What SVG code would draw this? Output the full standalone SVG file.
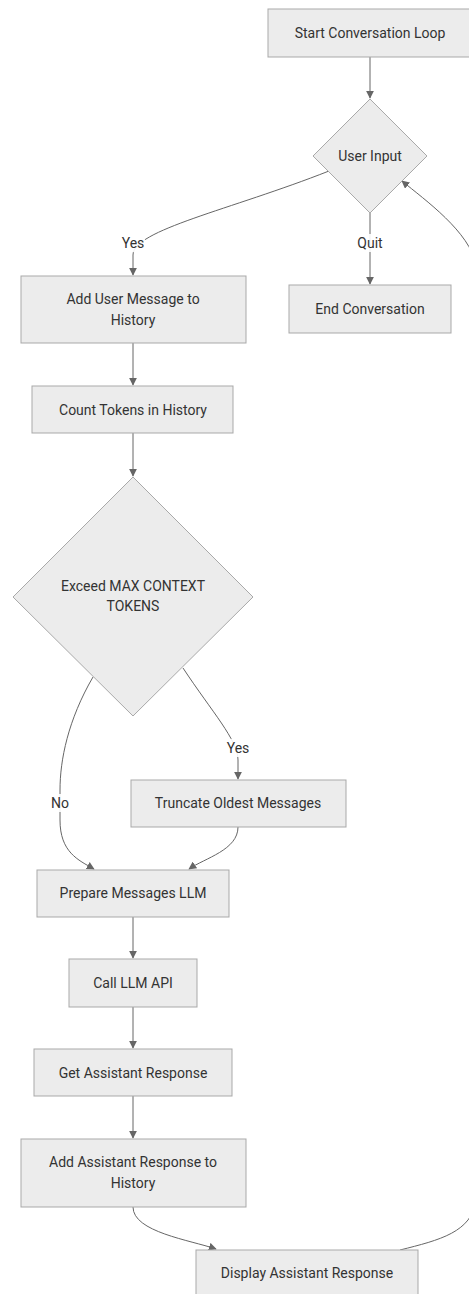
<svg xmlns="http://www.w3.org/2000/svg" width="469" height="1294" viewBox="0 0 469 1294">
  <style>
    .node rect, .node polygon { fill: #ececec; stroke: #a9a9a9; stroke-width: 1; }
    .node text { font-family: Roboto, "Liberation Sans", sans-serif; font-size: 14px; fill: #333; text-anchor: middle; dominant-baseline: central; }
    .edge { fill: none; stroke: #666; stroke-width: 1; }
    .lbl rect { fill: #fff; opacity: 0.9; }
    .lbl text { font-family: Roboto, "Liberation Sans", sans-serif; font-size: 14px; fill: #333; text-anchor: middle; dominant-baseline: central; }
  </style>
  <defs>
    <marker id="arrow" viewBox="0 0 10 10" refX="9" refY="5" markerWidth="8" markerHeight="8" markerUnits="userSpaceOnUse" orient="auto">
      <path d="M0,0 L10,5 L0,10 z" fill="#666"/>
    </marker>
  </defs>

  <rect width="469" height="1294" fill="#fff"/>

  <!-- connectors -->
  <g id="edges">
    <path class="edge" d="M370,57 L370,98" marker-end="url(#arrow)"/>
    <path class="edge" d="M329,171 C 230,210 133,230 133,255 L133,275" marker-end="url(#arrow)"/>
    <path class="edge" d="M370,212 L370,284" marker-end="url(#arrow)"/>
    <path class="edge" d="M133,343 L133,385" marker-end="url(#arrow)"/>
    <path class="edge" d="M133,433 L133,476" marker-end="url(#arrow)"/>
    <path class="edge" d="M93,677 C 68,720 60,760 60,790 L60,820 C 60,852 78,860 94,869" marker-end="url(#arrow)"/>
    <path class="edge" d="M183,668 C 212,712 238,740 238,760 L238,779" marker-end="url(#arrow)"/>
    <path class="edge" d="M238,827 C 238,850 205,858 189,869" marker-end="url(#arrow)"/>
    <path class="edge" d="M133,917 L133,958" marker-end="url(#arrow)"/>
    <path class="edge" d="M133,1007 L133,1048" marker-end="url(#arrow)"/>
    <path class="edge" d="M133,1096 L133,1138" marker-end="url(#arrow)"/>
    <path class="edge" d="M133,1207 C 133,1232 190,1240 216,1249" marker-end="url(#arrow)"/>
    <path class="edge" d="M400,1250 C 440,1240 472,1232 476,1200 L476,265 C 470,232 425,200 402,181" marker-end="url(#arrow)"/>

    <g class="lbl">
      <rect x="121" y="234" width="24" height="18"/>
      <text x="133" y="243">Yes</text>
      <rect x="356" y="234" width="28" height="18"/>
      <text x="370" y="243">Quit</text>
      <rect x="50" y="794" width="20" height="18"/>
      <text x="60" y="803">No</text>
      <rect x="227" y="739" width="23" height="18"/>
      <text x="238" y="748">Yes</text>
    </g>
  </g>

  <!-- nodes -->
  <g id="start" class="node">
    <rect x="268" y="9" width="204" height="48"/>
    <text x="370" y="33">Start Conversation Loop</text>
  </g>
  <g id="userInput" class="node">
    <polygon points="370,99 427,156 370,213 313,156"/>
    <text x="370" y="156">User Input</text>
  </g>
  <g id="endConv" class="node">
    <rect x="289" y="285" width="162" height="48"/>
    <text x="370" y="309">End Conversation</text>
  </g>
  <g id="addUser" class="node">
    <rect x="21" y="276" width="225" height="67"/>
    <text x="133" y="299">Add User Message to</text>
    <text x="133" y="320">History</text>
  </g>
  <g id="countTokens" class="node">
    <rect x="32" y="386" width="201" height="47"/>
    <text x="133" y="410">Count Tokens in History</text>
  </g>
  <g id="exceed" class="node">
    <polygon points="133,477 253,597 133,716 13,597"/>
    <text x="133" y="586">Exceed MAX CONTEXT</text>
    <text x="133" y="606">TOKENS</text>
  </g>
  <g id="truncate" class="node">
    <rect x="131" y="780" width="215" height="47"/>
    <text x="238" y="803">Truncate Oldest Messages</text>
  </g>
  <g id="prepare" class="node">
    <rect x="37" y="870" width="192" height="47"/>
    <text x="133" y="893">Prepare Messages LLM</text>
  </g>
  <g id="callApi" class="node">
    <rect x="69" y="959" width="128" height="48"/>
    <text x="133" y="983">Call LLM API</text>
  </g>
  <g id="getResponse" class="node">
    <rect x="34" y="1049" width="198" height="47"/>
    <text x="133" y="1073">Get Assistant Response</text>
  </g>
  <g id="addAssistant" class="node">
    <rect x="21" y="1139" width="225" height="68"/>
    <text x="133" y="1162">Add Assistant Response to</text>
    <text x="133" y="1183">History</text>
  </g>
  <g id="display" class="node">
    <rect x="196" y="1250" width="222" height="50"/>
    <text x="307" y="1273">Display Assistant Response</text>
  </g>
</svg>
